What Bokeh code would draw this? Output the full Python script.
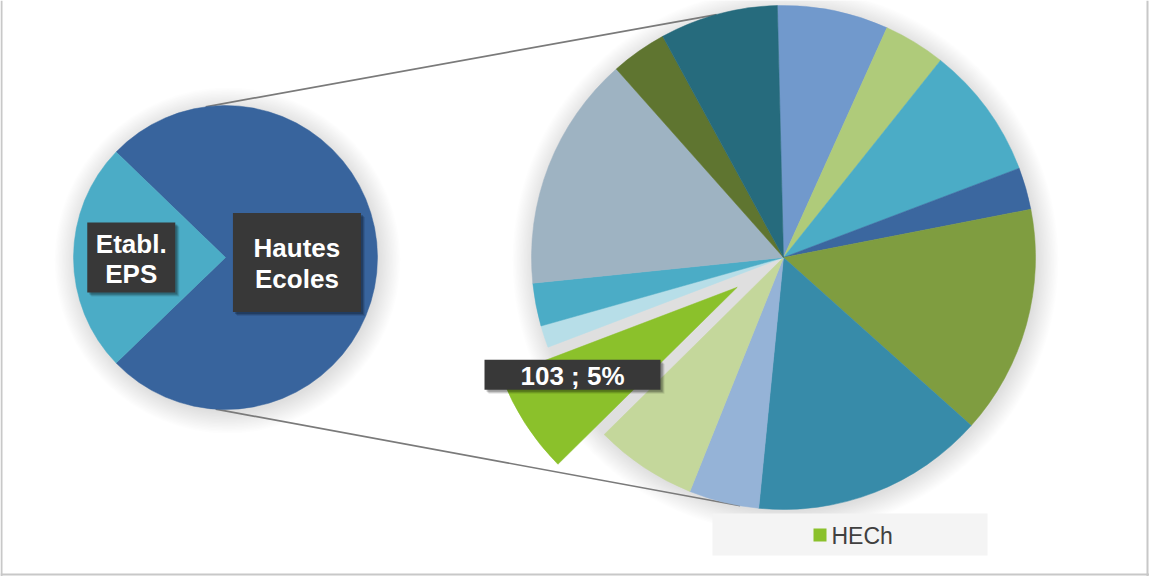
import math
from bokeh.plotting import figure
from bokeh.models import Range1d
from bokeh.embed import file_html
from bokeh.resources import INLINE
from bokeh.core.properties import value

# ---------------- data ----------------
main_labels = ["Hautes\nEcoles", "Etabl.\nEPS"]
main_colors = ["#38649D", "#4BACC6"]
eps_value = 504

he_labels = ["HE a", "HE b", "HE c", "HE d", "HE e", "HE f", "HE g",
             "HE h", "HECh", "HE i", "HE j", "HE k", "HE l", "HE m"]
he_values = [111, 62, 133, 42, 229, 233, 70, 102, 103, 22, 43, 235, 56, 118]
he_colors = ["#7199CC", "#AFCB7A", "#4BACC6", "#3B679F", "#7F9D40", "#378BA9",
             "#95B3D7", "#C4D79B", "#8BC12B", "#B7DEE8", "#4BACC6", "#9EB3C2",
             "#5F7530", "#266B7D"]
exploded = "HECh"

# ---------------- layout constants ----------------
W, H = 1149, 576
FONT = value("Liberation Sans")


def Y(py):
    return H - py


def pt(cx, cy, r, theta):
    """point at clockwise-from-top angle theta (deg), pixel coords"""
    t = math.radians(theta)
    return cx + r * math.sin(t), cy - r * math.cos(t)


p = figure(width=W, height=H, output_backend="svg", toolbar_location=None,
           x_range=Range1d(0, W), y_range=Range1d(0, H),
           x_axis_type=None, y_axis_type=None, min_border=0,
           background_fill_color="white", border_fill_color="white")
p.outline_line_color = None
p.grid.visible = False

L_CX, L_CY, L_R = 225, 257, 152
R_CX, R_CY, R_R = 783, 257, 252

he_total = sum(he_values)
total = he_total + eps_value


def shadow(cx, cy, r):
    for k in range(16):
        p.circle(x=[cx + 2], y=[Y(cy + 3)], radius=r + 1.4 * k,
                 fill_color="black", fill_alpha=0.0075, line_color=None)


shadow(L_CX, L_CY, L_R)
shadow(R_CX, R_CY, R_R)

# ---------------- connector lines ----------------
a1 = pt(L_CX, L_CY, L_R, -7.5)
b1 = pt(R_CX, R_CY, R_R, -15.4)
a2 = pt(L_CX, L_CY, L_R, 183.7)
b2 = pt(R_CX, R_CY, R_R, 189.9)
p.segment(x0=[a1[0], a2[0]], y0=[Y(a1[1]), Y(a2[1])],
          x1=[b1[0], b2[0]], y1=[Y(b1[1]), Y(b2[1])],
          line_color="#7A7A7A", line_width=1.7)

# ---------------- left pie ----------------
main_values = [he_total, eps_value]
he_span = 360.0 * main_values[0] / total
l_starts = [90 - he_span / 2, 90 + he_span / 2]
l_ends = [90 + he_span / 2, 90 - he_span / 2 + 360]
p.wedge(x=[L_CX] * 2, y=[Y(L_CY)] * 2, radius=L_R,
        start_angle=[math.radians(90 - s) for s in l_starts],
        end_angle=[math.radians(90 - e) for e in l_ends],
        direction="clock", fill_color=main_colors, line_color=main_colors,
        line_width=0.5)

# ---------------- right pie ----------------
theta0 = -1.4
xs, ys, sa, ea = [], [], [], []
cum = theta0
exp_info = None
for lab, v in zip(he_labels, he_values):
    t1 = cum
    t2 = cum + 360.0 * v / he_total
    cum = t2
    cx, cy = R_CX, R_CY
    if lab == exploded:
        mid = (t1 + t2) / 2
        cx, cy = pt(R_CX, R_CY, 55, mid)
        exp_info = (cx, cy, mid, v)
    xs.append(cx)
    ys.append(Y(cy))
    sa.append(math.radians(90 - t1))
    ea.append(math.radians(90 - t2))

p.wedge(x=xs, y=ys, radius=R_R, start_angle=sa, end_angle=ea,
        direction="clock", fill_color=he_colors, line_color=he_colors,
        line_width=0.5)


# ---------------- data labels ----------------
def label_box(cx, cy, w, h):
    for dx, al in ((4, 0.10), (3, 0.15), (2, 0.2)):
        p.quad(left=[cx - w / 2 + dx], right=[cx + w / 2 + dx],
               top=[Y(cy - h / 2 + dx)], bottom=[Y(cy + h / 2 + dx)],
               fill_color="black", fill_alpha=al, line_color=None)
    p.quad(left=[cx - w / 2], right=[cx + w / 2],
           top=[Y(cy - h / 2)], bottom=[Y(cy + h / 2)],
           fill_color="#383838", line_color=None)


def label_text(cx, cy, lines, size="26px", gap=31):
    n = len(lines)
    for i, ln in enumerate(lines):
        yy = cy + (i - (n - 1) / 2) * gap
        p.text(x=[cx], y=[Y(yy)], text=[ln], text_font=FONT,
               text_font_size=size, text_font_style="bold",
               text_color="white", text_align="center",
               text_baseline="middle")


# Hautes Ecoles label
hx, hy = pt(L_CX, L_CY, 0.47 * L_R, 90)
hy += 5
label_box(hx, hy, 128, 99)
label_text(hx, hy + 1, main_labels[0].split("\n"))

# Etabl. EPS label
ex, ey = pt(L_CX, L_CY, 0.62 * L_R, 270)
label_box(ex, ey, 88, 70)
label_text(ex, ey + 1, main_labels[1].split("\n"), gap=30)

# exploded slice label
ecx, ecy, emid, ev = exp_info
lx, ly = pt(ecx, ecy, 0.74 * R_R, emid + 4.8)
pct = round(100 * ev / total)
label_box(lx, ly, 176, 30)
label_text(lx, ly + 1, [f"{ev} ; {pct}%"])

# ---------------- legend ----------------
p.quad(left=[712], right=[987], top=[Y(513)], bottom=[Y(555)],
       fill_color="#F4F4F4", line_color=None)
idx = he_labels.index(exploded)
p.quad(left=[813], right=[826], top=[Y(528)], bottom=[Y(541)],
       fill_color=he_colors[idx], line_color=None)
p.text(x=[831], y=[Y(535)], text=[exploded], text_font=FONT,
       text_font_size="23px", text_color="#404040",
       text_align="left", text_baseline="middle")

# ---------------- frame ----------------
p.segment(x0=[1, 1147, 0], y0=[Y(0), Y(0), Y(574)],
          x1=[1, 1147, 1149], y1=[Y(576), Y(576), Y(574)],
          line_color="#C8C8C8", line_width=2)

open("out.html", "w").write(file_html(p, INLINE))
